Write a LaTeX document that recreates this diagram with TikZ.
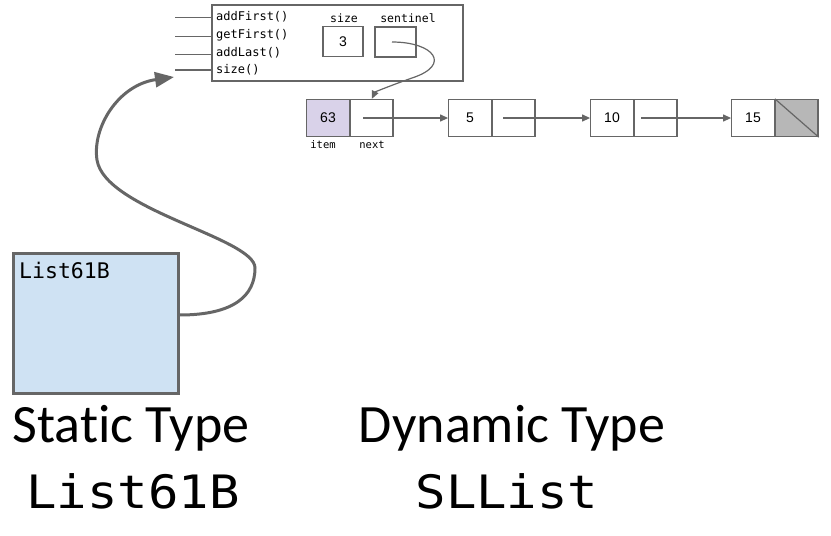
\documentclass[tikz,border=0pt]{standalone}
\usepackage{fontspec}
\setmainfont{Carlito}[Ligatures=NoCommon]
\setmonofont{DejaVu Sans Mono}
\newfontfamily\arialf{Liberation Sans}
\newfontfamily\widemono{DejaVu Sans Mono}[FakeStretch=1.1]
\usetikzlibrary{arrows.meta}
\definecolor{linegray}{HTML}{666666}
\definecolor{staticblue}{HTML}{CFE2F3}
\definecolor{itempurple}{HTML}{D9D2E9}
\definecolor{nullgray}{HTML}{B7B7B7}
\begin{document}
\begin{tikzpicture}[x=1pt,y=-1pt,
  box/.style={draw=linegray, line width=1.3pt, inner sep=0pt},
  cell/.style={box, minimum width=42.5pt, minimum height=37pt, font=\arialf\fontsize{14}{16}\selectfont},
  mtext/.style={anchor=west, inner sep=0pt, font=\ttfamily\fontsize{12}{14}\selectfont},
  ltext/.style={inner sep=0pt, font=\ttfamily\fontsize{11.5}{14}\selectfont},
  stext/.style={inner sep=0pt, font=\ttfamily\fontsize{10.5}{12}\selectfont},
  stub/.style={draw=linegray, line width=1.3pt},
  ptr/.style={draw=linegray, line width=1.2pt, -{Triangle[length=8pt,width=7pt]}},
  bigarrow/.style={draw=linegray, line width=3pt, -{Triangle[length=19pt,width=15pt]}},
  bigtext/.style={anchor=base, inner sep=0pt, font=\fontsize{54}{60}\selectfont},
  bigmono/.style={anchor=base, inner sep=0pt, font=\widemono\fontsize{46}{52}\selectfont}
]
\useasboundingbox (0,0) rectangle (831,536);

% object box
\node[box, minimum width=251pt, minimum height=76pt] (obj) at (337.5,43) {};
\node[mtext] (m1) at (216,17) {addFirst()};
\node[mtext] (m2) at (216,35.5) {getFirst()};
\node[mtext] (m3) at (216,53) {addLast()};
\node[mtext] (m4) at (216,70) {size()};
\coordinate (c1) at (175,17.3);
\coordinate (c2) at (175,36.7);
\coordinate (c3) at (175,54.3);
\coordinate (c4) at (175,70);
\draw[stub] (c1) -- (c1 -| obj.west);
\draw[stub] (c2) -- (c2 -| obj.west);
\draw[stub] (c3) -- (c3 -| obj.west);
\draw[stub] (c4) -- (c4 -| obj.west);

\node[ltext] (lsize) at (344,18) {size};
\node[ltext] (lsent) at (408,18) {sentinel};
\node[box, minimum width=40pt, minimum height=30pt, font=\arialf\fontsize{14}{16}\selectfont] (sizebox) at (343,41.5) {3};
\node[box, minimum width=41pt, minimum height=30pt] (sentbox) at (395.5,42) {};

% list nodes
\node[cell, fill=itempurple] (n1i) at (328,118) {63};
\node[cell, anchor=west] (n1n) at (n1i.east) {};
\node[cell] (n2i) at (470,118) {5};
\node[cell, anchor=west] (n2n) at (n2i.east) {};
\node[cell] (n3i) at (612,118) {10};
\node[cell, anchor=west] (n3n) at (n3i.east) {};
\node[cell] (n4i) at (753,118) {15};
\node[cell, anchor=west, fill=nullgray] (n4n) at (n4i.east) {};
\draw[draw=linegray, line width=1.2pt] (n4n.north west) -- (n4n.south east);

\node[stext] (litem) at (323,145) {item};
\node[stext] (lnext) at (372,145) {next};

\coordinate (p1) at (363,118);
\coordinate (p2) at (503,118);
\coordinate (p3) at (641,118);
\draw[ptr] (p1) -- (n2i.west);
\draw[ptr] (p2) -- (n3i.west);
\draw[ptr] (p3) -- (n4i.west);

\coordinate (sstart) at (392,42);
\draw[ptr] (sstart) .. controls (434,42) and (452,65) .. (412,78) .. controls (391,85.4) and (375,92) .. (n1n.north);

% static box
\node[draw=linegray, line width=3pt, fill=staticblue, minimum width=165pt, minimum height=140pt, inner sep=0pt] (st) at (95.5,323) {};
\node[anchor=base west, inner sep=0pt, font=\ttfamily\fontsize{21.5}{24}\selectfont] (stlabel) at (19,278.5) {List61B};

\coordinate (bs) at (179.5,315);
\coordinate (be) at (174,77);
\draw[bigarrow] (bs) .. controls (235,315) and (255,295) .. (255,268)
  .. controls (255,238) and (105,210) .. (97,160)
  .. controls (92,128) and (118,85) .. (be);

% captions
\node[bigtext] (cap1) at (131,442) {Static Type};
\node[bigtext] (cap2) at (512,442) {Dynamic Type};
\node[bigmono] (cap3) at (133,508) {List61B};
\node[bigmono] (cap4) at (507,508) {SLList};
\end{tikzpicture}
\end{document}
